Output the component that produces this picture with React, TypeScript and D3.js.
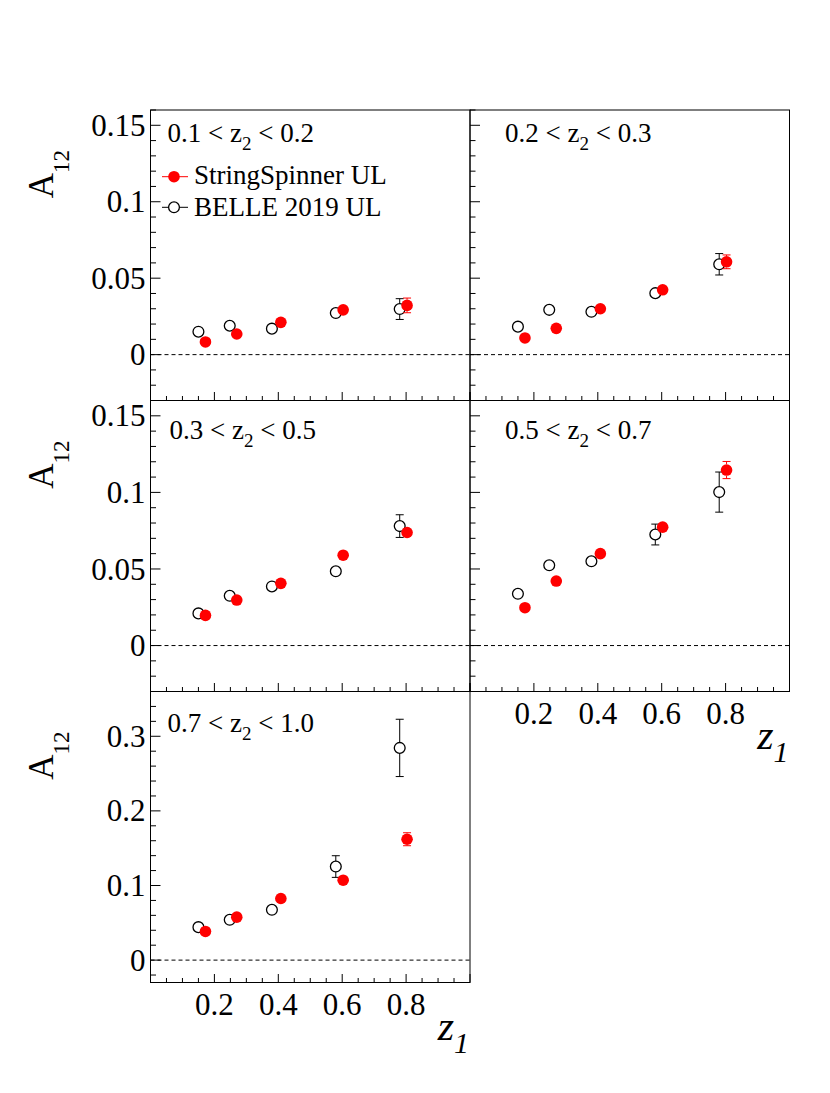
import * as d3 from "d3";
import React from "react";

// z1 bin centres of the two data sets (slightly shifted against each other)
const zBelle = [0.15, 0.248, 0.38, 0.58, 0.78];
const zSpinner = [0.172, 0.27, 0.408, 0.603, 0.803];

// z2 bins
const z2Low = ["0.1", "0.2", "0.3", "0.5", "0.7"];
const z2High = ["0.2", "0.3", "0.5", "0.7", "1.0"];

// BELLE 2019 UL
const belleA = [
  [0.015, 0.0189, 0.017, 0.0272, 0.0298],
  [0.0183, 0.0293, 0.028, 0.0402, 0.0591],
  [0.021, 0.0325, 0.0386, 0.0485, 0.078],
  [0.0338, 0.0524, 0.055, 0.0725, 0.1002],
  [0.0442, 0.054, 0.0674, 0.1254, 0.2844],
];
const belleErr = [
  [0.002, 0.002, 0.002, 0.002, 0.0068],
  [0.002, 0.002, 0.002, 0.002, 0.007],
  [0.002, 0.002, 0.002, 0.002, 0.0074],
  [0.002, 0.003, 0.002, 0.0068, 0.0131],
  [0.004, 0.005, 0.005, 0.0145, 0.0384],
];

// StringSpinner UL
const spinnerA = [
  [0.0083, 0.0135, 0.0211, 0.0293, 0.0322],
  [0.0109, 0.0172, 0.03, 0.0424, 0.0607],
  [0.0197, 0.0297, 0.0406, 0.059, 0.0738],
  [0.0247, 0.0421, 0.06, 0.0773, 0.1146],
  [0.0384, 0.0576, 0.0826, 0.1071, 0.162],
];
const spinnerErr = [
  [0.001, 0.001, 0.001, 0.001, 0.0048],
  [0.001, 0.001, 0.001, 0.001, 0.0045],
  [0.001, 0.001, 0.001, 0.002, 0.003],
  [0.001, 0.001, 0.002, 0.003, 0.0056],
  [0.002, 0.003, 0.003, 0.004, 0.0087],
];

const xTickLabels = [0.2, 0.4, 0.6, 0.8];

// pad layout (pixels)
const cols = [
  [150.5, 470],
  [470, 789.5],
];
const rows = [
  [110, 400.5],
  [400.5, 691.5],
  [691.5, 982.5],
];

type Panel = {
  row: number;
  col: number;
  yDomain: [number, number];
  yMajor: number;
  yMinor: number;
  yLabels: boolean;
  xLabels: boolean;
  labelX: number;
  labelY: number;
};

const panels: Panel[] = [
  { row: 0, col: 0, yDomain: [-0.03, 0.16], yMajor: 0.05, yMinor: 0.01, yLabels: true, xLabels: false, labelX: 17, labelY: 32 },
  { row: 0, col: 1, yDomain: [-0.03, 0.16], yMajor: 0.05, yMinor: 0.01, yLabels: false, xLabels: false, labelX: 35, labelY: 32 },
  { row: 1, col: 0, yDomain: [-0.03, 0.16], yMajor: 0.05, yMinor: 0.01, yLabels: true, xLabels: false, labelX: 19, labelY: 38 },
  { row: 1, col: 1, yDomain: [-0.03, 0.16], yMajor: 0.05, yMinor: 0.01, yLabels: false, xLabels: true, labelX: 35, labelY: 38 },
  { row: 2, col: 0, yDomain: [-0.03, 0.36], yMajor: 0.1, yMinor: 0.02, yLabels: true, xLabels: true, labelX: 17, labelY: 40 },
];

const FONT = "Liberation Serif";
const RED = "#ff0000";

const ticksFor = (lo: number, hi: number, step: number) =>
  d3.range(Math.ceil(lo / step - 1e-6), Math.floor(hi / step + 1e-6) + 1).map((i) => +(i * step).toFixed(4));

const isMajor = (v: number, step: number) => Math.abs(v / step - Math.round(v / step)) < 1e-6;

type SeriesProps = {
  x: d3.ScaleLinear<number, number>;
  y: d3.ScaleLinear<number, number>;
  zs: number[];
  vals: number[];
  errs: number[];
  color: string;
  r: number;
  filled: boolean;
};

const Series: React.FC<SeriesProps> = ({ x, y, zs, vals, errs, color, r, filled }) => (
  <g>
    {vals.map((v, i) => {
      const cx = x(zs[i]);
      const cy = y(v);
      const top = y(v + errs[i]);
      const bot = y(v - errs[i]);
      const showErr = cy - top > r;
      return (
        <g key={i}>
          {showErr && (
            <>
              <line x1={cx} x2={cx} y1={top} y2={cy - r} stroke={color} />
              <line x1={cx} x2={cx} y1={bot} y2={cy + r} stroke={color} />
              <line x1={cx - 4} x2={cx + 4} y1={top} y2={top} stroke={color} />
              <line x1={cx - 4} x2={cx + 4} y1={bot} y2={bot} stroke={color} />
            </>
          )}
          <circle
            cx={cx}
            cy={cy}
            r={r}
            fill={filled ? color : "none"}
            stroke={filled ? "none" : color}
            strokeWidth={1.3}
          />
        </g>
      );
    })}
  </g>
);

const Pad: React.FC<{ p: Panel; idx: number }> = ({ p, idx }) => {
  const [x0, x1] = cols[p.col];
  const [y0, y1] = rows[p.row];
  const x = d3.scaleLinear().domain([0, 1]).range([x0, x1]);
  const y = d3.scaleLinear().domain(p.yDomain).range([y1, y0]);

  return (
    <g>
      {/* y ticks, inside on the left */}
      {ticksFor(p.yDomain[0], p.yDomain[1], p.yMinor).map((v) => {
        const major = isMajor(v, p.yMajor);
        return (
          <g key={`y${v}`}>
            <line x1={x0} x2={x0 + (major ? 10 : 5.5)} y1={y(v)} y2={y(v)} stroke="#000" />
            {major && p.yLabels && (
              <text x={x0 - 5} y={y(v)} dy="0.34em" textAnchor="end" style={{ fontFamily: FONT, fontSize: 31 }}>
                {String(v)}
              </text>
            )}
          </g>
        );
      })}

      {/* x ticks, inside at the bottom */}
      {ticksFor(0, 1, 0.05).map((v) => (
        <line key={`x${v}`} x1={x(v)} x2={x(v)} y1={y1} y2={y1 - (isMajor(v, 0.2) ? 8.5 : 4.5)} stroke="#000" />
      ))}

      {p.xLabels && (
        <>
          {xTickLabels.map((v) => (
            <text key={`xl${v}`} x={x(v)} y={y1 + 32} textAnchor="middle" style={{ fontFamily: FONT, fontSize: 31 }}>
              {String(v)}
            </text>
          ))}
          <text x={x1 - 1} y={y1 + 57} textAnchor="end" style={{ fontFamily: FONT, fontStyle: "italic" }}>
            <tspan style={{ fontSize: 42 }}>z</tspan>
            <tspan style={{ fontSize: 30 }} dy={13}>
              1
            </tspan>
          </text>
        </>
      )}

      {/* zero line */}
      <line x1={x0} x2={x1} y1={y(0)} y2={y(0)} stroke="#000" strokeDasharray="4,3" />

      {p.yLabels && (
        <text transform={`translate(53,${y0 + 40}) rotate(-90)`} textAnchor="end" style={{ fontFamily: FONT }}>
          <tspan style={{ fontSize: 35 }}>A</tspan>
          <tspan style={{ fontSize: 23 }} dy={16}>
            12
          </tspan>
        </text>
      )}

      {/* bin label */}
      <text x={x0 + p.labelX} y={y0 + p.labelY} style={{ fontFamily: FONT, fontSize: 27 }}>
        <tspan>{`${z2Low[idx]} < z`}</tspan>
        <tspan style={{ fontSize: 19 }} dy={8}>
          2
        </tspan>
        <tspan dy={-8}>{` < ${z2High[idx]}`}</tspan>
      </text>

      <Series x={x} y={y} zs={zBelle} vals={belleA[idx]} errs={belleErr[idx]} color="#000" r={5.4} filled={false} />
      <Series x={x} y={y} zs={zSpinner} vals={spinnerA[idx]} errs={spinnerErr[idx]} color={RED} r={5.8} filled={true} />

      <rect x={x0} y={y0} width={x1 - x0} height={y1 - y0} fill="none" stroke="#000" />
    </g>
  );
};

const legendItems = [
  { name: "StringSpinner UL", color: RED, filled: true, r: 5.8, cy: 176.7, base: 183.5 },
  { name: "BELLE 2019 UL", color: "#000", filled: false, r: 5.4, cy: 207.3, base: 215.7 },
];

export default function App() {
  return (
    <div style={{ position: "absolute", left: 0, top: 0 }}>
      <svg width={830} height={1093} style={{ display: "block", background: "#fff" }}>
        {panels.map((p, i) => (
          <Pad key={i} p={p} idx={i} />
        ))}
        <g>
          {legendItems.map((it) => (
            <g key={it.name}>
              {it.filled ? (
                <line x1={162} x2={188} y1={it.cy} y2={it.cy} stroke={it.color} />
              ) : (
                <>
                  <line x1={162} x2={174 - it.r} y1={it.cy} y2={it.cy} stroke={it.color} />
                  <line x1={174 + it.r} x2={188} y1={it.cy} y2={it.cy} stroke={it.color} />
                </>
              )}
              <circle
                cx={174}
                cy={it.cy}
                r={it.r}
                fill={it.filled ? it.color : "none"}
                stroke={it.filled ? "none" : it.color}
                strokeWidth={1.3}
              />
              <text x={194} y={it.base} style={{ fontFamily: FONT, fontSize: 27 }}>
                {it.name}
              </text>
            </g>
          ))}
        </g>
      </svg>
    </div>
  );
}
